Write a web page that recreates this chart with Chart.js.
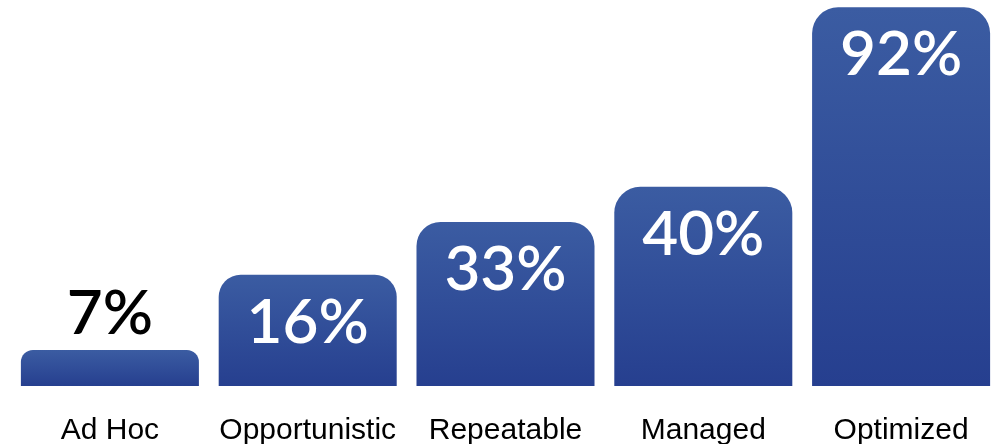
<!DOCTYPE html>
<html>
<head>
<meta charset="utf-8">
<script src="https://cdn.jsdelivr.net/npm/chart.js@4"></script>
<style>
    html, body { margin: 0; padding: 0; background: #fff; overflow: hidden; }
    #wrap { width: 1000px; height: 444px; overflow: hidden; }
</style>
</head>
<body>
<div id="wrap"><canvas id="maturity" width="1000" height="476"></canvas></div>
<script>
// Maturity stages and the share shown on each bar
const stages = ['Ad Hoc', 'Opportunistic', 'Repeatable', 'Managed', 'Optimized'];
const shares = [7, 16, 33, 40, 92];
// Bar heights as drawn in the picture (percent of the plot height, not to scale with the shares)
const barHeights = [9.3, 28.8, 42.5, 51.6, 98.1];
const radii = [12, 22, 24, 26, 26];

// Vertical gradient for each bar, from its own top down to the baseline
function barGradient(context) {
    const chart = context.chart;
    const area = chart.chartArea;
    if (!area) return '#2f4b98';
    const y = chart.scales.y;
    const top = y.getPixelForValue(context.raw);
    const bottom = y.getPixelForValue(0);
    const g = chart.ctx.createLinearGradient(0, top, 0, bottom);
    g.addColorStop(0, '#3b5ca2');
    g.addColorStop(1, '#263f8f');
    return g;
}

// Percent labels: inside the bar in white, above it in black when the bar is too short
const shareLabels = {
    id: 'shareLabels',
    afterDatasetsDraw(chart) {
        const ctx = chart.ctx;
        const meta = chart.getDatasetMeta(0);
        ctx.save();
        ctx.font = '600 62px Lato';
        ctx.textAlign = 'center';
        ctx.textBaseline = 'alphabetic';
        meta.data.forEach((bar, i) => {
            const h = bar.base - bar.y;
            const text = shares[i] + '%';
            if (h < 80) {
                ctx.fillStyle = '#000';
                ctx.fillText(text, bar.x, bar.y - 16);
            } else {
                ctx.fillStyle = '#fff';
                ctx.fillText(text, bar.x, bar.y + 68);
            }
        });
        ctx.restore();
    }
};

new Chart(document.getElementById('maturity'), {
    type: 'bar',
    data: {
        labels: stages,
        datasets: [{
            data: barHeights,
            backgroundColor: barGradient,
            borderWidth: 0,
            borderRadius: ctx => ({ topLeft: radii[ctx.dataIndex], topRight: radii[ctx.dataIndex] }),
            borderSkipped: 'start',
            barPercentage: 0.9,
            categoryPercentage: 1
        }]
    },
    options: {
        responsive: false,
        animation: false,
        layout: { padding: { left: 11, right: 0, top: 0, bottom: 0 } },
        plugins: {
            legend: { display: false },
            tooltip: { enabled: false }
        },
        scales: {
            x: {
                grid: { display: false, drawTicks: false },
                border: { display: false },
                ticks: {
                    color: '#000',
                    padding: 27,
                    font: { family: 'Liberation Sans', size: 30 }
                }
            },
            y: {
                display: false,
                min: 0,
                max: 100
            }
        }
    },
    plugins: [shareLabels]
});
</script>
</body>
</html>
